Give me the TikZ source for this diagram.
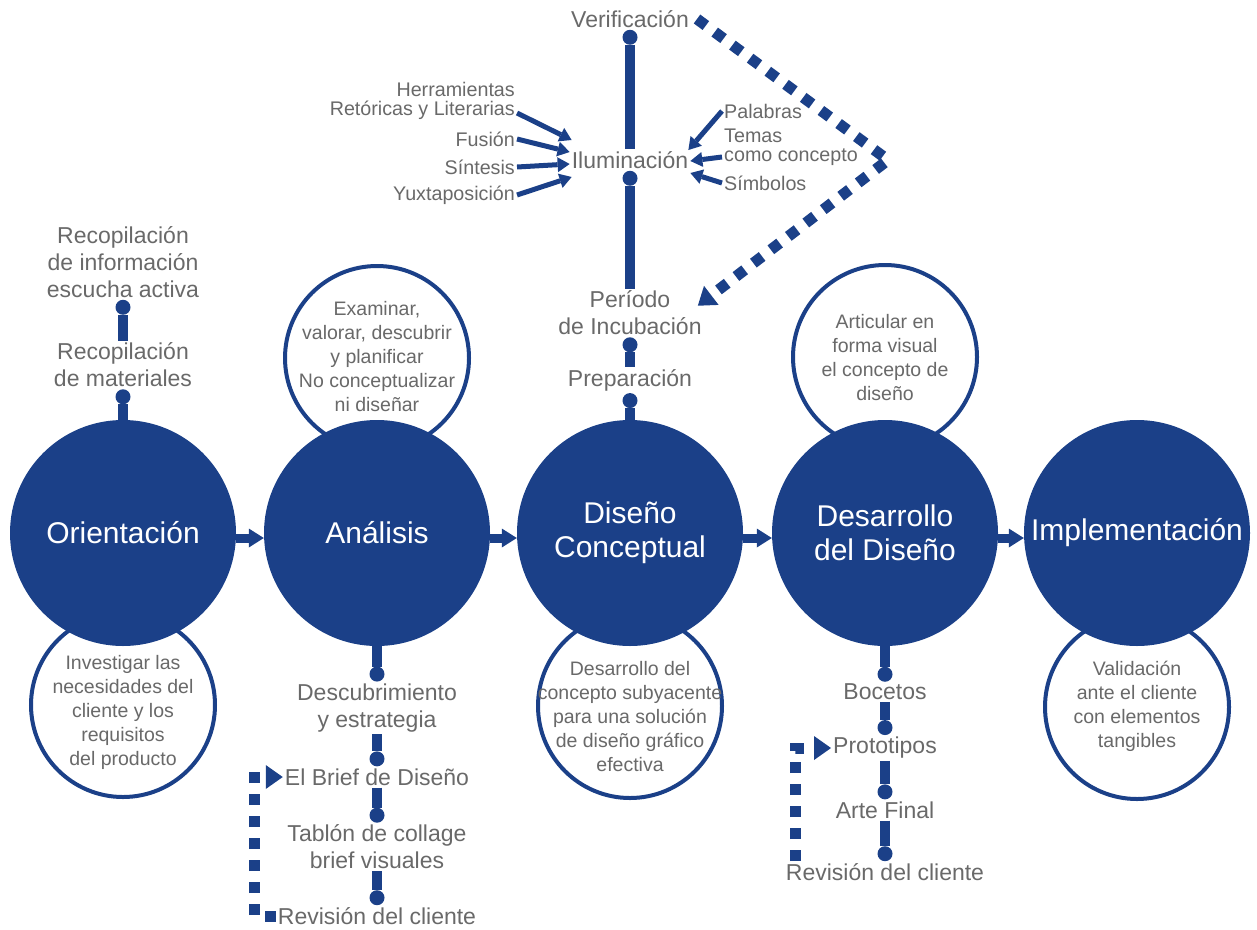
\documentclass[tikz,border=0pt]{standalone}
\usepackage{fontspec}
\setmainfont{Liberation Sans}
\usetikzlibrary{arrows.meta}
\definecolor{azul}{RGB}{27,64,136}
\definecolor{gris}{RGB}{105,105,105}
\tikzset{
  fase/.style={circle, fill=azul, minimum size=226pt, inner sep=0pt, text=white,
    align=center, font=\fontsize{30}{34}\selectfont},
  nota/.style={circle, draw=azul, line width=4pt, fill=white, minimum size=184pt, inner sep=0pt},
  notatxt/.style={text=gris, align=center, inner sep=0pt, font=\fontsize{19.5}{24}\selectfont},
  etiq/.style={text=gris, align=center, inner sep=2pt, font=\fontsize{23}{27}\selectfont},
  chica/.style={text=gris, inner sep=2pt, font=\fontsize{19.7}{19}\selectfont},
  tallo/.style={draw=azul, line width=10pt, -{Circle[length=15pt,width=15pt,line width=0pt]}},
  flujo/.style={draw=azul, line width=9pt, -{Triangle[length=15pt,width=19pt,line width=0pt]}},
  flecha/.style={draw=azul, line width=5pt, -{Triangle[length=12pt,width=15pt,line width=0pt]}},
  punteada/.style={draw=azul, line width=11pt, dash pattern=on 11pt off 11pt,
    -{Triangle[length=17pt,width=24pt,line width=0pt]}}
}
\begin{document}
\begin{tikzpicture}[x=1pt,y=-1pt]
  \useasboundingbox (0,0) rectangle (1257,929);
  % notas
  \node[nota] (n1) at (123,705) {};
  \node[nota] (n2) at (377,358) {};
  \node[nota] (n3) at (630,706) {};
  \node[nota] (n4) at (885,357) {};
  \node[nota] (n5) at (1137,707) {};
  % fases
  \node[fase] (orient) at (123,533) {Orientación};
  \node[fase] (anal) at (377,533) {Análisis};
  \node[fase] (conc) at (630,533) {Diseño\\Conceptual};
  \node[fase] (desa) at (885,533) {Desarrollo\\del Diseño};
  \node[fase] (impl) at (1137,533) {Implementación};
  \foreach \a/\b in {orient/anal, anal/conc, conc/desa, desa/impl}
    \draw[flujo] ([yshift=-5pt]\a.east) -- ([yshift=-5pt]\b.west);
  % textos de las notas
  \node[notatxt] (t1) at (123,712) {Investigar las\\necesidades del\\cliente y los\\requisitos\\del producto};
  \node[notatxt] (t2) at (377,357) {Examinar,\\valorar, descubrir\\y planificar\\No conceptualizar\\ni diseñar};
  \node[notatxt] (t3) at (630,717) {Desarrollo del\\concepto subyacente\\para una solución\\de diseño gráfico\\efectiva};
  \node[notatxt] (t4) at (885,358) {Articular en\\forma visual\\el concepto de\\diseño};
  \node[notatxt] (t5) at (1137,706) {Validación\\ante el cliente\\con elementos\\tangibles};
  % orientacion
  \node[etiq] (mat) at (123,365) {Recopilación\\de materiales};
  \node[etiq] (info) at (123,262) {Recopilación\\de información\\escucha activa};
  \draw[tallo] (orient.north) -- (mat.south);
  \draw[tallo] (mat.north) -- (info.south);
  % analisis
  \node[etiq] (desc) at (377,708) {Descubrimiento\\y estrategia};
  \node[etiq] (brief) at (377,777) {El Brief de Diseño};
  \node[etiq] (tabl) at (377,847) {Tablón de collage\\brief visuales};
  \node[etiq] (rev1) at (377,916) {Revisión del cliente};
  \draw[tallo] (anal.south) -- (desc.north);
  \draw[tallo] (desc.south) -- (brief.north);
  \draw[tallo] (brief.south) -- (tabl.north);
  \draw[tallo] (tabl.south) -- (rev1.north);
  \draw[punteada] (rev1.west) -- ++(-21,0) |- (brief.west);
  % diseno conceptual
  \node[etiq] (prep) at (630,380) {Preparación};
  \node[etiq] (incu) at (630,313) {Período\\de Incubación};
  \node[etiq] (ilum) at (630,160) {Iluminación};
  \node[etiq] (verif) at (630,19) {Verificación};
  \draw[tallo] (conc.north) -- (prep.south);
  \draw[tallo] (prep.north) -- (incu.south);
  \draw[tallo] (incu.north) -- (ilum.south);
  \draw[tallo] (ilum.north) -- (verif.south);
  \coordinate (vert) at (888,160);
  \draw[punteada] ([xshift=6pt]verif.east) -- (vert) -- ([xshift=-6pt,yshift=-17pt]incu.north east);
  \node[chica, anchor=east, align=right] (herr) at (517,101) {Herramientas\\Retóricas y Literarias};
  \node[chica, anchor=east] (fus) at (517,139) {Fusión};
  \node[chica, anchor=east] (sint) at (517,167) {Síntesis};
  \node[chica, anchor=east] (yux) at (517,195) {Yuxtaposición};
  \node[chica, anchor=west] (pal) at (722,111) {Palabras};
  \node[chica, anchor=west, align=left] (tem) at (722,147) {Temas\\como concepto};
  \node[chica, anchor=west] (simb) at (722,183) {Símbolos};
  \draw[flecha] ([yshift=-12pt]herr.east) -- ([xshift=2pt,yshift=20pt]ilum.west);
  \draw[flecha] (fus.east) -- ([yshift=8pt]ilum.west);
  \draw[flecha] (sint.east) -- ([yshift=-4pt]ilum.west);
  \draw[flecha] (yux.east) -- ([xshift=2pt,yshift=-17pt]ilum.west);
  \draw[flecha] (pal.west) -- ([xshift=-2pt,yshift=10pt]ilum.east);
  \draw[flecha] ([yshift=-10pt]tem.west) -- ([yshift=-1pt]ilum.east);
  \draw[flecha] (simb.west) -- ([yshift=-13pt]ilum.east);
  % desarrollo
  \node[etiq] (boc) at (885,692) {Bocetos};
  \node[etiq] (proto) at (885,748) {Prototipos};
  \node[etiq] (arte) at (885,810) {Arte Final};
  \node[etiq] (rev2) at (885,872) {Revisión del cliente};
  \draw[tallo] (desa.south) -- (boc.north);
  \draw[tallo] (boc.south) -- (proto.north);
  \draw[tallo] (proto.south) -- (arte.north);
  \draw[tallo] (arte.south) -- (rev2.north);
  \draw[punteada] ([xshift=12pt]rev2.north west) |- (proto.west);
\end{tikzpicture}
\end{document}
